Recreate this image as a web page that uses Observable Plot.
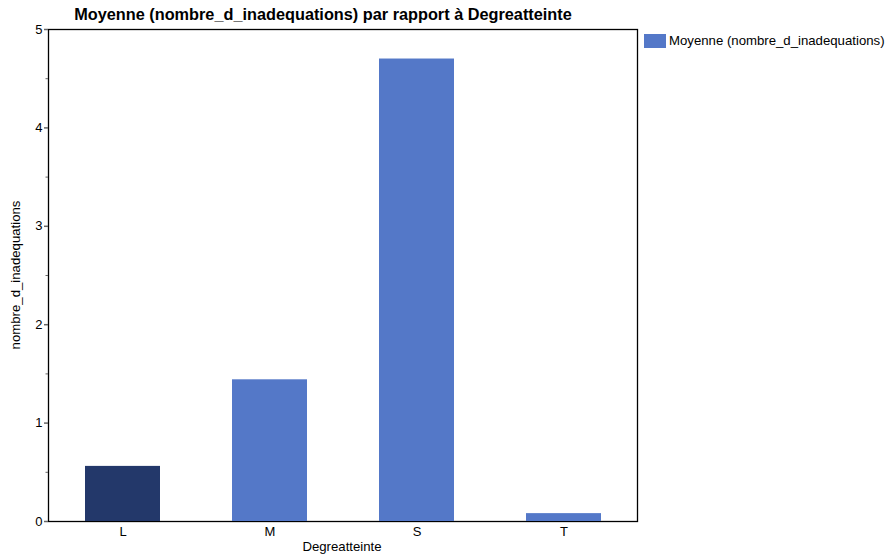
<!DOCTYPE html>
<html>
<head>
<meta charset="utf-8">
<script src="https://cdn.jsdelivr.net/npm/d3@7"></script>
<script src="https://cdn.jsdelivr.net/npm/@observablehq/plot@0.6"></script>
<style>
  html, body { margin: 0; padding: 0; background: #fff; }
  #wrap { position: relative; width: 887px; height: 555px; font-family: Arial, "Liberation Sans", sans-serif; }
  #title { position: absolute; left: 0; width: 646px; top: 5px; text-align: center; font-weight: bold; font-size: 16.3px; color: #000; }
  #ylabel { position: absolute; left: 15px; top: 275px; transform: translate(-50%, -50%) rotate(-90deg); font-size: 13.2px; white-space: nowrap; color: #000; }
  #xlabel { position: absolute; left: 342px; top: 539px; transform: translateX(-50%); font-size: 13.2px; color: #000; }
  #legend { position: absolute; left: 644px; top: 33px; display: flex; align-items: center; font-size: 13.2px; color: #000; }
  #legend .sw { width: 22px; height: 14px; background: #5478c8; margin-right: 3px; }
  svg { position: absolute; left: 0; top: 0; }
</style>
</head>
<body>
<div id="wrap">
  <div id="title">Moyenne (nombre_d_inadequations) par rapport à Degreatteinte</div>
  <div id="ylabel">nombre_d_inadequations</div>
  <div id="xlabel">Degreatteinte</div>
  <div id="legend"><div class="sw"></div><span>Moyenne (nombre_d_inadequations)</span></div>
</div>
<script>
const categories = ["L", "M", "S", "T"];
const values = [0.56, 1.44, 4.70, 0.08];
const yTicks = [0, 1, 2, 3, 4, 5];
const yMinorTicks = [0.5, 1.5, 2.5, 3.5, 4.5];

const data = categories.map((c, i) => ({cat: c, value: values[i]}));
const dark = "#23386a";
const light = "#5478c8";

const chart = Plot.plot({
  width: 887,
  height: 555,
  marginLeft: 48,
  marginRight: 250,
  marginTop: 29,
  marginBottom: 34,
  style: {fontFamily: "Arial, 'Liberation Sans', sans-serif", fontSize: "13px", background: "transparent", color: "#000"},
  x: {domain: categories, paddingInner: 0.49, paddingOuter: 0.245, align: 0.5, label: null},
  y: {domain: [0, 5], label: null},
  marks: [
    Plot.frame({stroke: "#000", strokeWidth: 1.3}),
    Plot.barY(data, {x: "cat", y: "value", fill: d => d.cat === "L" ? dark : light}),
    Plot.axisY({ticks: yTicks, tickSize: 4, tickPadding: 2, line: true, stroke: "#666", strokeWidth: 1.5, tickFormat: d => String(d), label: null, fill: "#000"}),
    Plot.axisY({ticks: yMinorTicks, tickSize: 2.5, tickFormat: () => "", label: null, stroke: "#666"}),
    Plot.axisX({tickSize: 0, tickPadding: 5, line: true, stroke: "#444", strokeWidth: 1.5, label: null, fill: "#000"})
  ]
});
document.getElementById("wrap").prepend(chart);
</script>
</body>
</html>
